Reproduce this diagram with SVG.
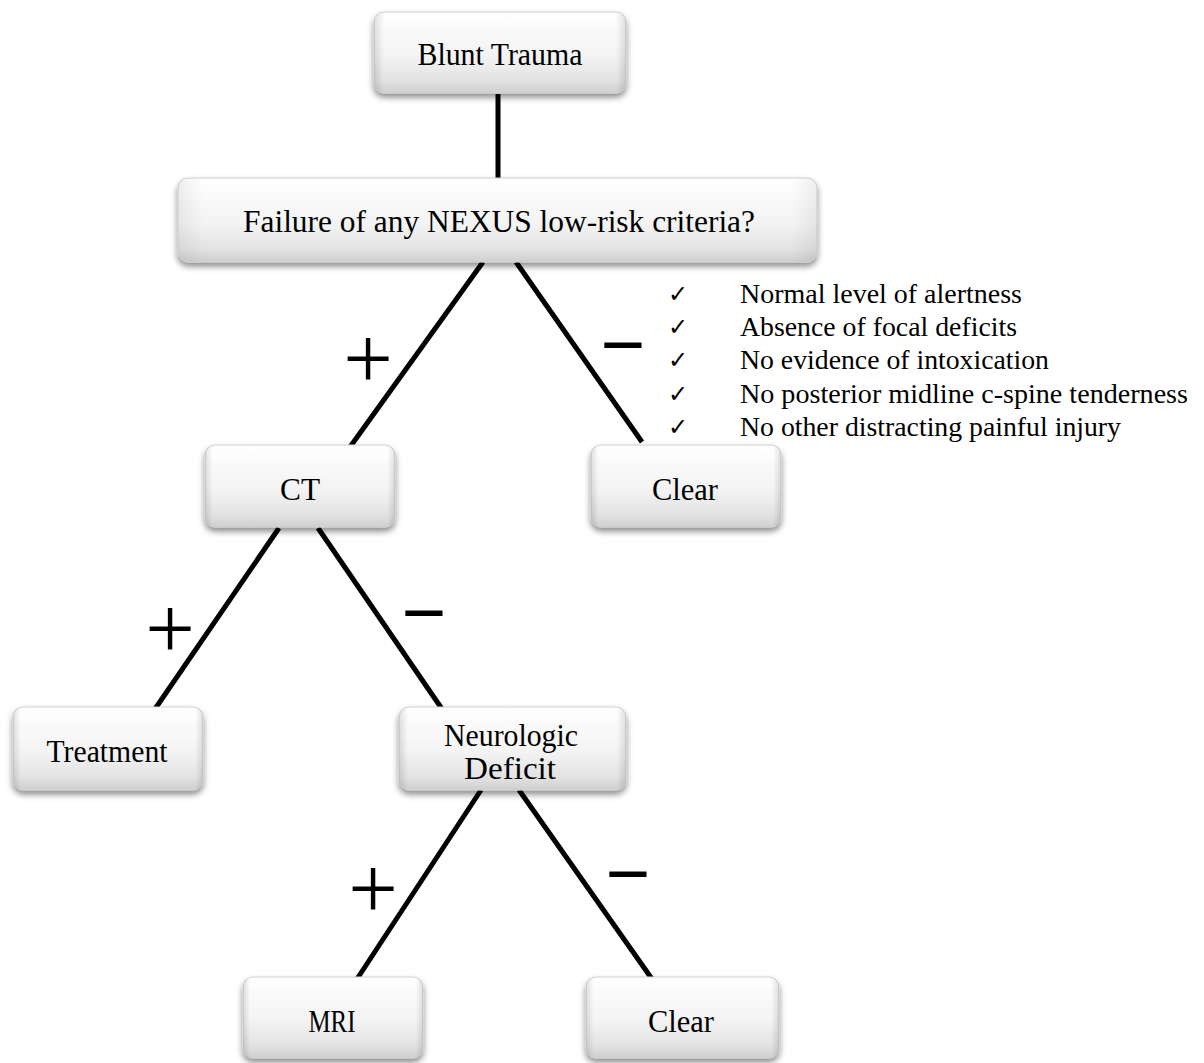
<svg xmlns="http://www.w3.org/2000/svg" width="1204" height="1063" viewBox="0 0 1204 1063">
<defs>
<linearGradient id="g" x1="0" y1="0" x2="0" y2="1">
<stop offset="0" stop-color="#ffffff"/>
<stop offset="0.55" stop-color="#f3f3f3"/>
<stop offset="0.85" stop-color="#e2e2e2"/>
<stop offset="1" stop-color="#cfcfcf"/>
</linearGradient>
<linearGradient id="gh" x1="0" y1="0" x2="1" y2="0">
<stop offset="0" stop-color="#000" stop-opacity="0.12"/>
<stop offset="0.04" stop-color="#000" stop-opacity="0"/>
<stop offset="0.96" stop-color="#000" stop-opacity="0"/>
<stop offset="1" stop-color="#000" stop-opacity="0.12"/>
</linearGradient>
<filter id="sh" x="-10%" y="-20%" width="120%" height="150%">
<feDropShadow dx="0" dy="4" stdDeviation="3" flood-color="#000" flood-opacity="0.45"/>
</filter>
</defs>
<style>
.box{fill:url(#g);stroke:#d0d0d0;stroke-width:1;filter:url(#sh)}
.edge{fill:url(#gh)}
.t{font-family:"Liberation Serif","Times New Roman",serif;font-size:32px;fill:#000;text-anchor:middle}
.c{stroke:#000;stroke-width:5;fill:none}
.sg{font-family:"Liberation Serif","Times New Roman",serif;fill:#000;text-anchor:middle}
.li{font-family:"Liberation Serif","Times New Roman",serif;font-size:28px;fill:#000}
.ck{font-family:"DejaVu Sans",sans-serif;font-size:24px;fill:#000}
</style>
<rect width="1204" height="1063" fill="#fff"/>
<g id="connectors">
<line class="c" x1="498" y1="94" x2="498" y2="180"/>
<line class="c" x1="483" y1="262" x2="350" y2="447"/>
<line class="c" x1="516" y1="262" x2="642" y2="442"/>
<line class="c" x1="279" y1="528" x2="155" y2="709"/>
<line class="c" x1="318" y1="528" x2="442" y2="709"/>
<line class="c" x1="481" y1="790" x2="357" y2="979"/>
<line class="c" x1="519" y1="790" x2="652" y2="979"/>
</g>
<g id="signs">
<text class="sg" x="368" y="388" font-size="88">+</text>
<text class="sg" x="623" y="372" font-size="80" font-weight="bold">−</text>
<text class="sg" x="170" y="658" font-size="88">+</text>
<text class="sg" x="424" y="640" font-size="80" font-weight="bold">−</text>
<text class="sg" x="373" y="918" font-size="88">+</text>
<text class="sg" x="628" y="901" font-size="80" font-weight="bold">−</text>
</g>
<g id="n-blunt">
<rect class="box" x="374" y="12" width="252" height="81" rx="10"/>
<rect class="edge" x="374" y="12" width="252" height="81" rx="10"/>
<text class="t" x="500" y="65" textLength="165" lengthAdjust="spacingAndGlyphs">Blunt  Trauma</text>
</g>
<g id="n-failure">
<rect class="box" x="178" y="178" width="639" height="84" rx="10"/>
<rect class="edge" x="178" y="178" width="639" height="84" rx="10" opacity="0.5"/>
<text class="t" x="499" y="232" textLength="512" lengthAdjust="spacingAndGlyphs">Failure  of any NEXUS low-risk  criteria?</text>
</g>
<g id="n-ct">
<rect class="box" x="205" y="445" width="190" height="82" rx="10"/>
<rect class="edge" x="205" y="445" width="190" height="82" rx="10"/>
<text class="t" x="300" y="500" textLength="40" lengthAdjust="spacingAndGlyphs">CT</text>
</g>
<g id="n-clear1">
<rect class="box" x="591" y="445" width="190" height="82" rx="10"/>
<rect class="edge" x="591" y="445" width="190" height="82" rx="10"/>
<text class="t" x="685" y="500" textLength="66" lengthAdjust="spacingAndGlyphs">Clear</text>
</g>
<g id="n-treatment">
<rect class="box" x="13" y="707" width="190" height="83" rx="10"/>
<rect class="edge" x="13" y="707" width="190" height="83" rx="10"/>
<text class="t" x="107" y="762" textLength="121" lengthAdjust="spacingAndGlyphs">Treatment</text>
</g>
<g id="n-neuro">
<rect class="box" x="399" y="707" width="227" height="83" rx="10"/>
<rect class="edge" x="399" y="707" width="227" height="83" rx="10"/>
<text class="t" x="511" y="746" textLength="134" lengthAdjust="spacingAndGlyphs">Neurologic</text>
<text class="t" x="510" y="779" textLength="92" lengthAdjust="spacingAndGlyphs">Deficit</text>
</g>
<g id="n-mri">
<rect class="box" x="243" y="977" width="180" height="81" rx="10"/>
<rect class="edge" x="243" y="977" width="180" height="81" rx="10"/>
<text class="t" x="332" y="1032" textLength="47" lengthAdjust="spacingAndGlyphs">MRI</text>
</g>
<g id="n-clear2">
<rect class="box" x="586" y="977" width="193" height="81" rx="10"/>
<rect class="edge" x="586" y="977" width="193" height="81" rx="10"/>
<text class="t" x="681" y="1032" textLength="66" lengthAdjust="spacingAndGlyphs">Clear</text>
</g>
<g id="criteria">
<text class="ck" x="668" y="302">✓</text>
<text class="ck" x="668" y="335">✓</text>
<text class="ck" x="668" y="368">✓</text>
<text class="ck" x="668" y="402">✓</text>
<text class="ck" x="668" y="435">✓</text>
<text class="li" x="740" y="303" textLength="282" lengthAdjust="spacingAndGlyphs">Normal level of alertness</text>
<text class="li" x="740" y="336" textLength="277" lengthAdjust="spacingAndGlyphs">Absence of focal deficits</text>
<text class="li" x="740" y="369" textLength="309" lengthAdjust="spacingAndGlyphs">No evidence of intoxication</text>
<text class="li" x="740" y="403" textLength="448" lengthAdjust="spacingAndGlyphs">No posterior midline  c-spine tenderness</text>
<text class="li" x="740" y="436" textLength="381" lengthAdjust="spacingAndGlyphs">No other distracting painful injury</text>
</g>
</svg>
